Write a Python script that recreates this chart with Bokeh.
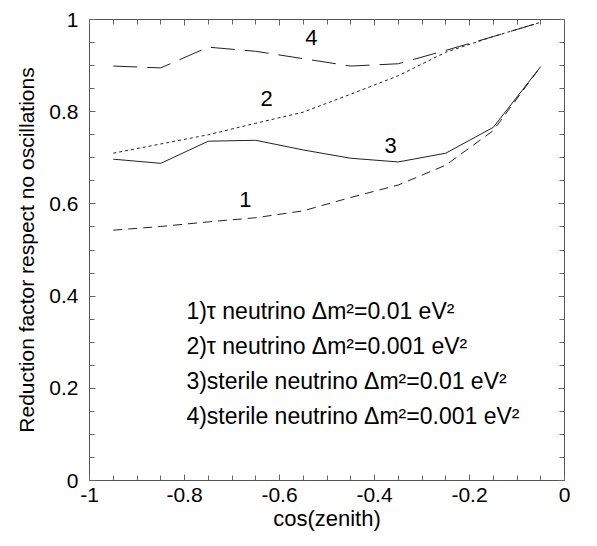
from bokeh.plotting import figure
from bokeh.models import LinearAxis, FixedTicker, CustomJSTickFormatter, Range1d
from bokeh.core.properties import value
from bokeh.embed import file_html
from bokeh.resources import INLINE

cos_zenith = [-0.95, -0.85, -0.75, -0.65, -0.55, -0.45, -0.35, -0.25, -0.15, -0.05]
curve1 = [0.543, 0.551, 0.561, 0.570, 0.585, 0.614, 0.641, 0.684, 0.759, 0.898]
curve2 = [0.710, 0.730, 0.750, 0.775, 0.799, 0.838, 0.878, 0.929, 0.963, 0.994]
curve3 = [0.697, 0.688, 0.736, 0.738, 0.717, 0.699, 0.691, 0.710, 0.766, 0.898]
curve4 = [0.899, 0.895, 0.940, 0.931, 0.915, 0.899, 0.904, 0.933, 0.963, 0.994]

curve_labels = ["1", "2", "3", "4"]
curve_label_x = [-0.672, -0.627, -0.366, -0.533]
curve_label_y = [0.610, 0.828, 0.726, 0.962]

legend_lines = [
    "1)\u03c4 neutrino \u0394m\u00b2=0.01 eV\u00b2",
    "2)\u03c4 neutrino \u0394m\u00b2=0.001 eV\u00b2",
    "3)sterile neutrino \u0394m\u00b2=0.01 eV\u00b2",
    "4)sterile neutrino \u0394m\u00b2=0.001 eV\u00b2",
]
legend_x = [-0.796, -0.796, -0.796, -0.796]
legend_y = [0.367, 0.291, 0.215, 0.139]

x_ticks = [-1, -0.8, -0.6, -0.4, -0.2, 0]
y_ticks = [0, 0.2, 0.4, 0.6, 0.8, 1]
x_minor = [-1 + 0.05 * i for i in range(21)]
y_minor = [0.05 * i for i in range(21)]

FONT = "Liberation Sans"

p = figure(width=581, height=538, output_backend="svg", toolbar_location=None,
           x_range=Range1d(-1, 0), y_range=Range1d(0, 1),
           min_border_left=89, min_border_right=17, min_border_top=19, min_border_bottom=58,
           x_axis_label="cos(zenith)", y_axis_label="Reduction factor respect no oscillations")
p.xgrid.visible = False
p.ygrid.visible = False
p.outline_line_color = "#555555"
p.outline_line_width = 1

fmt = CustomJSTickFormatter(code="return Number(tick.toFixed(2)).toString();")
blank = CustomJSTickFormatter(code="return '';")

def style_axis(ax, ticks, minor, labels=True):
    ax.ticker = FixedTicker(ticks=ticks, minor_ticks=minor)
    ax.formatter = fmt if labels else blank
    ax.axis_line_color = None
    ax.major_tick_in = 6
    ax.major_tick_out = 0
    ax.minor_tick_in = 5
    ax.minor_tick_out = 0
    ax.major_tick_line_color = "#666666"
    ax.minor_tick_line_color = "#666666"
    ax.major_label_text_font = FONT
    ax.major_label_text_font_size = "21px"
    ax.major_label_text_color = "black"
    ax.axis_label_text_font = FONT
    ax.axis_label_text_font_style = "normal"
    ax.axis_label_text_color = "black"
    if not labels:
        ax.major_label_standoff = 0

style_axis(p.xaxis[0], x_ticks, x_minor)
style_axis(p.yaxis[0], y_ticks, y_minor)
p.xaxis[0].major_label_standoff = 7
p.xaxis[0].axis_label_standoff = 1
p.xaxis[0].axis_label_text_font_size = "22px"
p.yaxis[0].major_label_standoff = 11
p.yaxis[0].axis_label_standoff = 8
p.yaxis[0].axis_label_text_font_size = "21px"

top = LinearAxis()
style_axis(top, x_ticks, x_minor, labels=False)
p.add_layout(top, "above")
right = LinearAxis()
style_axis(right, y_ticks, y_minor, labels=False)
p.add_layout(right, "right")

lc = "#222222"
p.line(cos_zenith, curve1, line_color=lc, line_width=1, line_dash="9 6")
p.line(cos_zenith, curve2, line_color=lc, line_width=1, line_dash="3 3")
p.line(cos_zenith, curve3, line_color=lc, line_width=1)
p.line(cos_zenith, curve4, line_color=lc, line_width=1, line_dash="24 10")

p.text(curve_label_x, curve_label_y, text=curve_labels, text_font=value(FONT),
       text_font_size="22px", text_align="center", text_baseline="middle", text_color="black")
p.text(legend_x, legend_y, text=legend_lines, text_font=value(FONT),
       text_font_size="23px", text_align="left", text_baseline="alphabetic", text_color="black")

open("out.html", "w").write(file_html(p, INLINE))
